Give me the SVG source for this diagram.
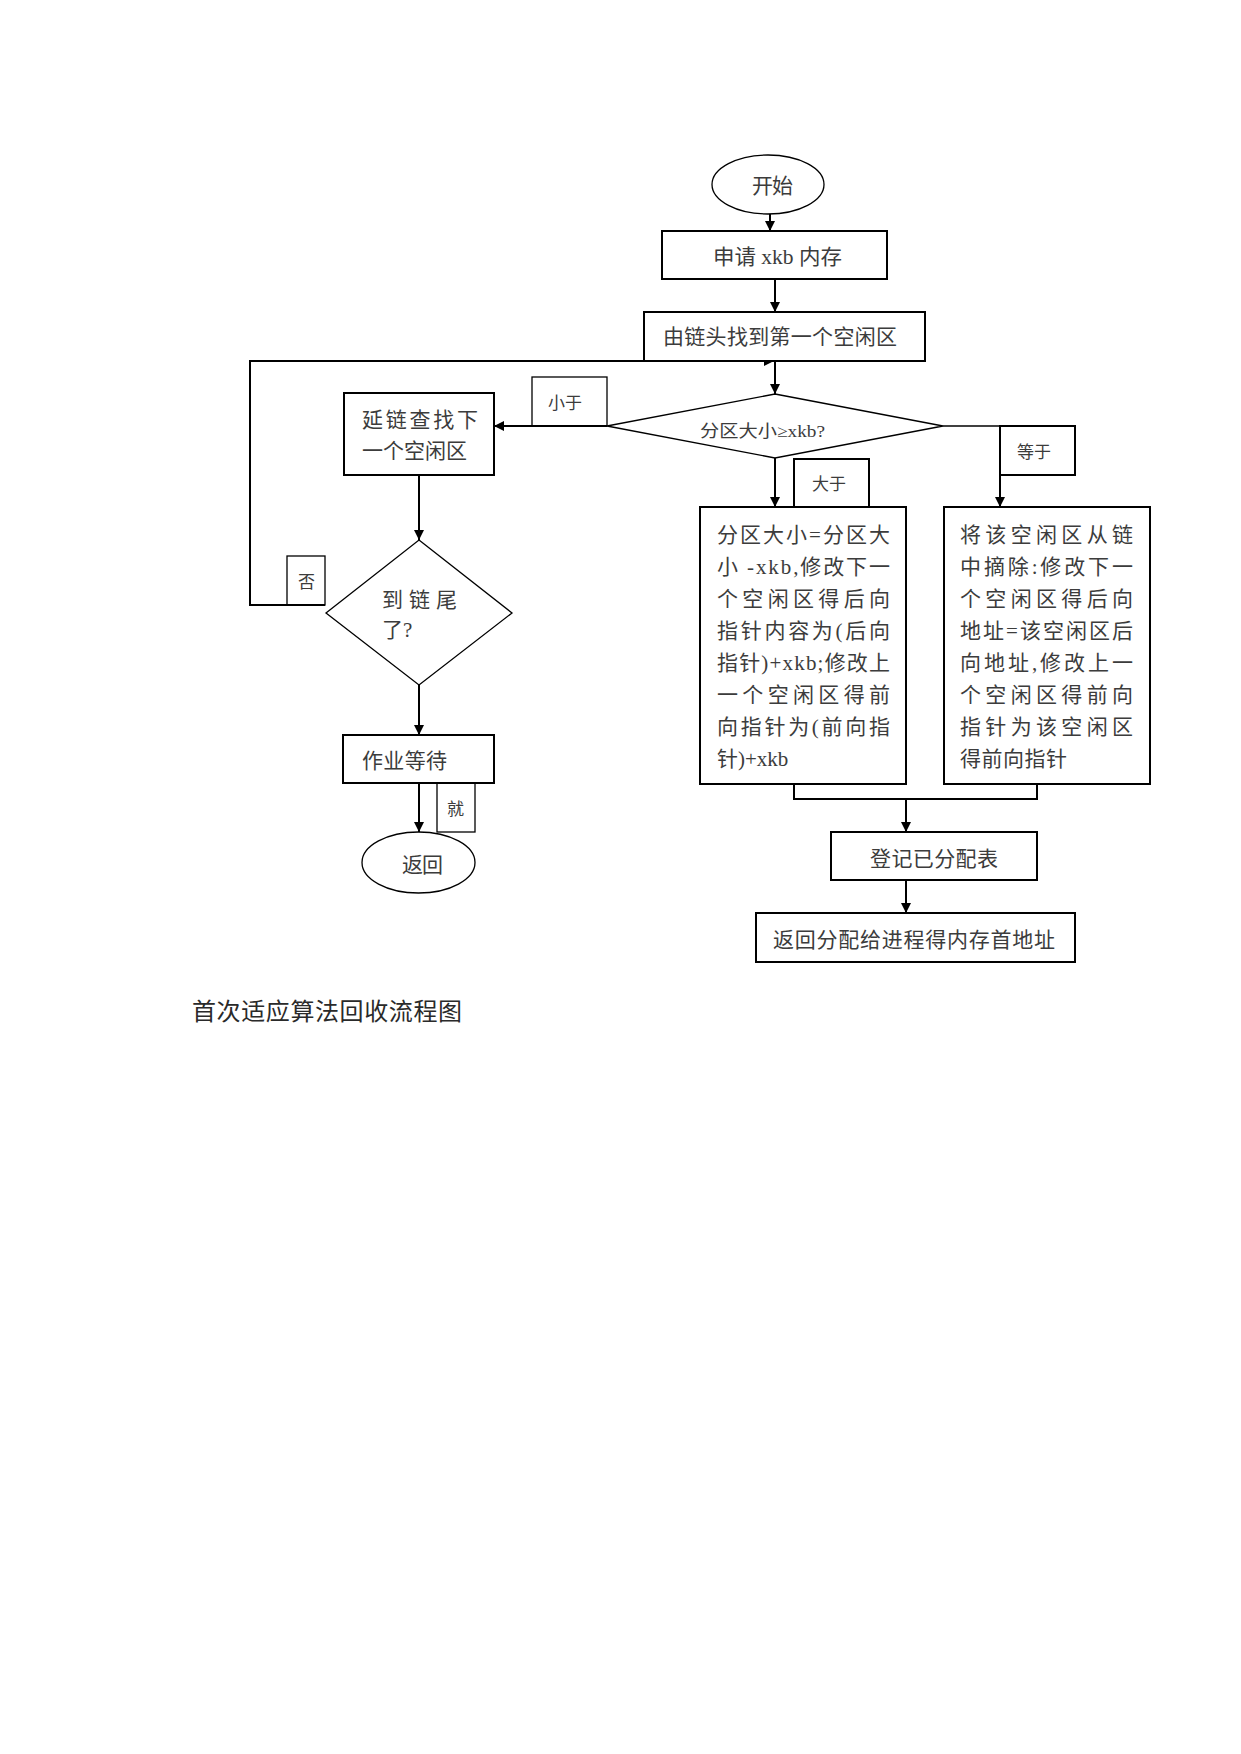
<svg xmlns="http://www.w3.org/2000/svg" width="1241" height="1754" viewBox="0 0 1241 1754">
<defs>
<marker id="arr" viewBox="0 0 10 10" refX="10" refY="5" markerWidth="12" markerHeight="10" markerUnits="userSpaceOnUse" orient="auto">
<path d="M0,0 L10,5 L0,10 z" fill="#000"/>
</marker>
<style>
.box{fill:#fff;stroke:#000;stroke-width:2}
.thin{fill:#fff;stroke:#000;stroke-width:1.3}
.lbl{fill:none;stroke:#000;stroke-width:1.3}
.t{font-family:"Liberation Serif","Noto Sans CJK SC",serif;font-size:21px;fill:#3c3c3c}
.s{font-family:"Liberation Serif","Noto Sans CJK SC",serif;font-size:17px;fill:#3c3c3c}
.c{fill:none;stroke:#000;stroke-width:2}
.ct{fill:none;stroke:#000;stroke-width:1.3}
</style>
</defs>
<rect width="1241" height="1754" fill="#fff"/>

<g id="connectors">
<line class="c" x1="770" y1="214" x2="770" y2="231" marker-end="url(#arr)"/>
<line class="c" x1="775" y1="279" x2="775" y2="312" marker-end="url(#arr)"/>
<line class="c" x1="775" y1="361" x2="775" y2="394" marker-end="url(#arr)"/>
<polyline class="c" points="325,605 250,605 250,361 774,361" marker-end="url(#arr)"/>
<line class="c" x1="607" y1="426" x2="494" y2="426" marker-end="url(#arr)"/>
<line class="c" x1="419" y1="475" x2="419" y2="540" marker-end="url(#arr)"/>
<line class="c" x1="419" y1="685" x2="419" y2="735" marker-end="url(#arr)"/>
<line class="c" x1="419" y1="783" x2="419" y2="832" marker-end="url(#arr)"/>
<line class="c" x1="775" y1="458" x2="775" y2="507" marker-end="url(#arr)"/>
<line class="ct" x1="943" y1="426" x2="1000" y2="426"/>
<line class="c" x1="1000" y1="475" x2="1000" y2="507" marker-end="url(#arr)"/>
<polyline class="c" points="794,784 794,799 1037,799 1037,784"/>
<line class="c" x1="906" y1="799" x2="906" y2="832" marker-end="url(#arr)"/>
<line class="c" x1="906" y1="880" x2="906" y2="913" marker-end="url(#arr)"/>
</g>

<g id="label-xiaoyu">
<rect class="lbl" x="532" y="377" width="75" height="49"/>
<text class="s" x="548" y="409">小于</text>
</g>
<g id="label-fou">
<rect class="lbl" x="287" y="556" width="38" height="49"/>
<text class="s" x="298" y="588">否</text>
</g>
<g id="label-dayu">
<rect class="c" x="794" y="459" width="75" height="48"/>
<text class="s" x="812" y="490">大于</text>
</g>
<g id="label-dengyu">
<rect class="c" x="1000" y="426" width="75" height="49"/>
<text class="s" x="1017" y="458">等于</text>
</g>
<g id="label-jiu">
<rect class="ct" x="437" y="783" width="38" height="49"/>
<text class="s" x="447" y="815">就</text>
</g>

<g id="start">
<ellipse class="thin" cx="768" cy="184.5" rx="56" ry="29.5"/>
<text class="t" x="752" y="193" textLength="41">开始</text>
</g>
<g id="apply">
<rect class="box" x="662" y="231" width="225" height="48"/>
<text class="t" x="713" y="264" textLength="129" lengthAdjust="spacingAndGlyphs">申请 xkb 内存</text>
</g>
<g id="first-free">
<rect class="box" x="644" y="312" width="281" height="49"/>
<text class="t" x="663" y="344" textLength="234">由链头找到第一个空闲区</text>
</g>
<g id="size-check">
<polygon class="thin" points="775,394 943,426 775,458 607,426"/>
<text class="s" x="700" y="437" textLength="125" lengthAdjust="spacingAndGlyphs">分区大小≥xkb?</text>
</g>
<g id="next-free">
<rect class="box" x="344" y="393" width="150" height="82"/>
<text class="t" x="362" y="427" textLength="116">延链查找下</text>
<text class="t" x="362" y="458" textLength="105">一个空闲区</text>
</g>
<g id="chain-end">
<polygon class="thin" points="419,540 512,613 419,685 326,613"/>
<text class="t" x="382" y="607" textLength="75">到 链 尾</text>
<text class="t" x="382" y="637">了?</text>
</g>
<g id="wait">
<rect class="box" x="343" y="735" width="151" height="48"/>
<text class="t" x="362" y="768" textLength="85">作业等待</text>
</g>
<g id="return-left">
<ellipse class="thin" cx="418.5" cy="862.5" rx="56.5" ry="30.5"/>
<text class="t" x="402" y="872" textLength="41">返回</text>
</g>
<g id="greater-box">
<rect class="box" x="700" y="507" width="206" height="277"/>
<text class="t" x="717" y="542" textLength="173" lengthAdjust="spacing">分区大小=分区大</text>
<text class="t" x="717" y="574" textLength="173" lengthAdjust="spacing">小 -xkb,修改下一</text>
<text class="t" x="717" y="606" textLength="173" lengthAdjust="spacing">个空闲区得后向</text>
<text class="t" x="717" y="638" textLength="173" lengthAdjust="spacing">指针内容为(后向</text>
<text class="t" x="717" y="670" textLength="173" lengthAdjust="spacing">指针)+xkb;修改上</text>
<text class="t" x="717" y="702" textLength="173" lengthAdjust="spacing">一个空闲区得前</text>
<text class="t" x="717" y="734" textLength="173" lengthAdjust="spacing">向指针为(前向指</text>
<text class="t" x="717" y="766">针)+xkb</text>
</g>
<g id="equal-box">
<rect class="box" x="944" y="507" width="206" height="277"/>
<text class="t" x="960" y="542" textLength="173" lengthAdjust="spacing">将该空闲区从链</text>
<text class="t" x="960" y="574" textLength="173" lengthAdjust="spacing">中摘除:修改下一</text>
<text class="t" x="960" y="606" textLength="173" lengthAdjust="spacing">个空闲区得后向</text>
<text class="t" x="960" y="638" textLength="173" lengthAdjust="spacing">地址=该空闲区后</text>
<text class="t" x="960" y="670" textLength="173" lengthAdjust="spacing">向地址,修改上一</text>
<text class="t" x="960" y="702" textLength="173" lengthAdjust="spacing">个空闲区得前向</text>
<text class="t" x="960" y="734" textLength="173" lengthAdjust="spacing">指针为该空闲区</text>
<text class="t" x="960" y="766" textLength="107">得前向指针</text>
</g>
<g id="register">
<rect class="box" x="831" y="832" width="206" height="48"/>
<text class="t" x="870" y="866" textLength="128">登记已分配表</text>
</g>
<g id="return-addr">
<rect class="box" x="756" y="913" width="319" height="49"/>
<text class="t" x="773" y="947" textLength="282">返回分配给进程得内存首地址</text>
</g>
<g id="caption">
<text x="192" y="1020" textLength="270" style="font-family:'Liberation Serif','Noto Sans CJK SC',serif;font-size:24px;fill:#2a2a2a">首次适应算法回收流程图</text>
</g>
</svg>
